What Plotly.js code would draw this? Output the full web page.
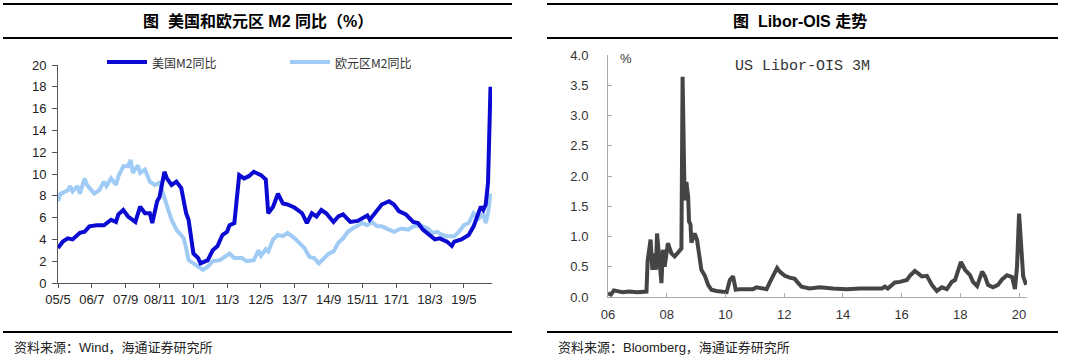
<!DOCTYPE html>
<html>
<head>
<meta charset="utf-8">
<script src="https://cdn.plot.ly/plotly-3.0.1.min.js"></script>
<style>html,body{margin:0;padding:0;background:#fff;}#chart{width:1080px;height:359px;}</style>
</head>
<body>
<div id="chart"></div>
<script>
// ---- Left chart: US & Euro area M2 YoY (%) ----
var usDates = ['2005-05','2005-07','2005-09','2005-11','2006-02','2006-04','2006-06','2006-09','2006-12','2007-03','2007-05','2007-06','2007-08','2007-10','2008-01','2008-03','2008-05','2008-07','2008-08','2008-10','2008-11','2009-01','2009-02','2009-04','2009-06','2009-08','2009-10','2009-11','2010-01','2010-03','2010-04','2010-07','2010-09','2010-11','2011-01','2011-03','2011-04','2011-06','2011-08','2011-10','2011-12','2012-02','2012-05','2012-07','2012-08','2012-10','2012-12','2013-02','2013-04','2013-07','2013-10','2013-12','2014-02','2014-04','2014-06','2014-08','2014-11','2015-01','2015-03','2015-06','2015-09','2015-12','2016-01','2016-02','2016-05','2016-07','2016-10','2016-12','2017-02','2017-05','2017-08','2017-10','2017-12','2018-03','2018-05','2018-07','2018-10','2018-12','2019-01','2019-04','2019-07','2019-09','2019-11','2019-12','2020-01','2020-02','2020-03','2020-04'];
var usM2 = [3.2,3.8,4.1,4.0,4.6,4.7,5.2,5.3,5.3,5.8,5.6,6.3,6.7,6.1,5.6,7.0,6.4,6.4,5.5,7.5,7.9,10.2,9.6,9.0,9.3,8.7,6.4,5.8,2.7,2.3,1.8,2.1,3.0,3.4,4.4,4.7,5.3,5.5,9.9,9.6,9.8,10.2,9.9,9.5,6.4,7.0,8.2,7.3,7.2,6.9,6.4,5.5,6.4,6.1,6.7,6.4,5.6,6.1,6.3,5.6,5.7,6.0,6.2,5.8,6.6,7.2,7.5,7.2,6.6,6.3,5.6,5.5,4.9,4.3,4.0,4.1,3.8,3.4,3.8,4.0,4.4,5.2,6.3,7.0,6.7,7.2,9.2,18.0];

var euDates = ['2005-05','2005-06','2005-09','2005-10','2005-11','2006-01','2006-02','2006-04','2006-05','2006-08','2006-10','2006-12','2007-01','2007-03','2007-05','2007-06','2007-08','2007-10','2007-11','2007-12','2008-02','2008-03','2008-05','2008-07','2008-09','2008-11','2008-12','2009-02','2009-04','2009-06','2009-09','2009-10','2009-11','2010-01','2010-03','2010-05','2010-07','2010-09','2010-12','2011-04','2011-06','2011-09','2011-11','2012-02','2012-04','2012-05','2012-07','2012-08','2012-10','2012-12','2013-02','2013-04','2013-07','2013-09','2013-11','2014-01','2014-03','2014-05','2014-07','2014-09','2014-11','2015-01','2015-03','2015-05','2015-07','2015-09','2015-11','2016-01','2016-03','2016-05','2016-07','2016-10','2016-12','2017-03','2017-06','2017-08','2017-11','2018-02','2018-04','2018-06','2018-08','2018-10','2019-01','2019-03','2019-05','2019-07','2019-09','2019-11','2020-01','2020-02','2020-03','2020-04'];
var euM2 = [7.5,8.2,8.5,8.9,8.4,8.9,8.2,9.6,9.0,8.2,8.5,9.3,8.9,9.6,9.0,9.8,10.7,10.7,11.3,10.1,10.8,10.1,10.4,9.3,9.0,9.2,8.5,7.0,5.8,4.9,4.1,3.2,2.1,1.8,1.5,1.2,1.5,2.0,2.1,2.7,2.3,2.3,2.0,2.1,3.0,2.5,3.1,2.9,4.0,4.4,4.3,4.6,4.1,3.7,3.2,2.4,2.3,1.8,2.3,2.7,2.9,3.7,4.1,4.7,5.0,5.3,5.5,5.3,5.6,5.2,5.2,4.9,4.7,5.0,4.9,5.2,5.3,5.0,4.6,4.7,4.4,4.3,4.3,4.7,5.3,5.5,6.4,5.9,6.3,5.5,6.4,8.2];

var leftTickVals = ['2005-05-01','2006-07-01','2007-09-01','2008-11-01','2010-01-01','2011-03-01','2012-05-01','2013-07-01','2014-09-01','2015-11-01','2017-01-01','2018-03-01','2019-05-01'];
var leftTickText = ['05/5','06/7','07/9','08/11','10/1','11/3','12/5','13/7','14/9','15/11','17/1','18/3','19/5'];

// ---- Right chart: US Libor-OIS 3M (%) ----
var liborYear = [2006.00,2006.10,2006.20,2006.30,2006.50,2006.70,2007.00,2007.31,2007.35,2007.45,2007.51,2007.56,2007.63,2007.67,2007.74,2007.79,2007.82,2007.87,2007.93,2008.04,2008.16,2008.27,2008.42,2008.50,2008.54,2008.59,2008.61,2008.67,2008.73,2008.76,2008.81,2008.84,2008.90,2008.95,2009.03,2009.10,2009.18,2009.30,2009.41,2009.52,2009.69,2010.04,2010.15,2010.26,2010.35,2010.49,2010.94,2011.06,2011.28,2011.40,2011.51,2011.62,2011.76,2011.85,2012.02,2012.19,2012.36,2012.48,2012.59,2012.87,2013.21,2013.66,2014.13,2014.58,2015.02,2015.33,2015.43,2015.53,2015.67,2015.77,2015.94,2016.18,2016.28,2016.45,2016.56,2016.69,2016.86,2017.03,2017.20,2017.37,2017.54,2017.71,2017.82,2017.92,2018.02,2018.16,2018.33,2018.43,2018.57,2018.74,2018.84,2018.94,2019.11,2019.28,2019.42,2019.59,2019.76,2019.86,2019.93,2020.00,2020.07,2020.14,2020.24];
var liborOIS = [0.06,0.04,0.11,0.10,0.08,0.09,0.08,0.09,0.60,0.95,0.45,0.72,0.45,1.05,0.72,0.39,0.23,0.78,0.50,0.89,0.72,0.67,0.75,0.80,3.64,1.77,1.60,1.90,1.65,1.25,1.20,0.90,1.00,1.05,0.95,0.70,0.45,0.35,0.20,0.12,0.10,0.08,0.28,0.34,0.12,0.13,0.13,0.16,0.14,0.13,0.24,0.34,0.48,0.42,0.35,0.32,0.30,0.23,0.17,0.14,0.16,0.14,0.13,0.14,0.14,0.14,0.17,0.14,0.20,0.24,0.25,0.28,0.35,0.43,0.39,0.34,0.35,0.20,0.10,0.16,0.13,0.25,0.28,0.45,0.58,0.45,0.36,0.25,0.18,0.42,0.34,0.20,0.16,0.20,0.29,0.36,0.33,0.13,0.50,1.38,0.83,0.34,0.20];
var rightTickVals = [2006,2008,2010,2012,2014,2016,2018,2020];
var rightTickText = ['06','08','10','12','14','16','18','20'];

var W = 1080, H = 359;
function px(x){return x / W;}
function py(y){return 1 - y / H;}

var FONT = 'Liberation Sans, Arial, Noto Sans CJK SC, sans-serif';
var CJK = 'Noto Sans CJK SC, Liberation Sans, sans-serif';

var traces = [
  {x: euDates, y: euM2, type: 'scatter', mode: 'lines', name: '欧元区M2同比',
   line: {color: '#9fcbf5', width: 4}, xaxis: 'x', yaxis: 'y', showlegend: false},
  {x: usDates, y: usM2, type: 'scatter', mode: 'lines', name: '美国M2同比',
   line: {color: '#0a0ad2', width: 4}, xaxis: 'x', yaxis: 'y', showlegend: false},
  {x: liborYear, y: liborOIS, type: 'scatter', mode: 'lines', name: 'US Libor-OIS 3M',
   line: {color: '#454545', width: 4}, xaxis: 'x2', yaxis: 'y2', showlegend: false}
];

function hline(x0, x1, y, w){
  return {type: 'line', xref: 'paper', yref: 'paper', x0: px(x0), x1: px(x1), y0: py(y), y1: py(y),
          line: {color: '#000', width: w}};
}

var layout = {
  width: W, height: H,
  margin: {l: 0, r: 0, t: 0, b: 0},
  paper_bgcolor: '#fff', plot_bgcolor: '#fff',
  font: {family: FONT, size: 13, color: '#222'},
  showlegend: false,
  xaxis: {
    type: 'date', domain: [px(58), px(492)], anchor: 'y',
    range: ['2005-05-01', '2020-04-20'],
    tickmode: 'array', tickvals: leftTickVals, ticktext: leftTickText,
    ticks: 'outside', ticklen: 4, tickcolor: '#555', tickwidth: 1,
    showline: true, linecolor: '#555', linewidth: 1,
    showgrid: false, zeroline: false,
    tickfont: {family: FONT, size: 13, color: '#222'}
  },
  yaxis: {
    domain: [py(283), py(65)], anchor: 'x',
    range: [0, 20], dtick: 2, tick0: 0,
    ticks: 'outside', ticklen: 5, tickcolor: '#555', tickwidth: 1,
    showline: true, linecolor: '#555', linewidth: 1,
    showgrid: false, zeroline: false, ticklabelstandoff: 3,
    tickfont: {family: FONT, size: 13, color: '#222'}
  },
  xaxis2: {
    domain: [px(608), px(1027)], anchor: 'y2',
    range: [2006, 2020.27],
    tickmode: 'array', tickvals: rightTickVals, ticktext: rightTickText,
    ticks: 'inside', ticklen: 4, tickcolor: '#aaa', tickwidth: 1,
    showline: true, linecolor: '#aaa', linewidth: 1,
    showgrid: false, zeroline: false, ticklabelstandoff: 5,
    tickfont: {family: FONT, size: 13, color: '#333'}
  },
  yaxis2: {
    domain: [py(297), py(55)], anchor: 'x2',
    range: [0, 4], dtick: 0.5, tick0: 0, tickformat: '.1f',
    ticks: 'inside', ticklen: 4, tickcolor: '#aaa', tickwidth: 1,
    showline: true, linecolor: '#aaa', linewidth: 1,
    showgrid: false, zeroline: false, ticklabelstandoff: 16,
    tickfont: {family: FONT, size: 13, color: '#333'}
  },
  shapes: [
    hline(3, 512, 4, 2), hline(3, 512, 38, 2), hline(3, 512, 332, 2),
    hline(547, 1058, 4, 2), hline(547, 1058, 38, 2), hline(547, 1058, 332, 2),
    // legend keys (left chart)
    {type: 'line', xref: 'paper', yref: 'paper', x0: px(107), x1: px(147), y0: py(62), y1: py(62), line: {color: '#0a0ad2', width: 4}},
    {type: 'line', xref: 'paper', yref: 'paper', x0: px(290), x1: px(330), y0: py(62), y1: py(62), line: {color: '#9fcbf5', width: 4}}
  ],
  annotations: [
    {xref: 'paper', yref: 'paper', x: px(258), y: py(21), text: '<b>图  美国和欧元区 M2 同比（%）</b>', showarrow: false,
     xanchor: 'center', yanchor: 'middle', font: {family: FONT, size: 16, color: '#000'}},
    {xref: 'paper', yref: 'paper', x: px(800), y: py(21), text: '<b>图  Libor-OIS 走势</b>', showarrow: false,
     xanchor: 'center', yanchor: 'middle', font: {family: FONT, size: 16, color: '#000'}},
    {xref: 'paper', yref: 'paper', x: px(150), y: py(62), text: '美国M2同比', showarrow: false,
     xanchor: 'left', yanchor: 'middle', font: {family: CJK, size: 12, color: '#333'}},
    {xref: 'paper', yref: 'paper', x: px(333), y: py(62), text: '欧元区M2同比', showarrow: false,
     xanchor: 'left', yanchor: 'middle', font: {family: CJK, size: 12, color: '#333'}},
    {xref: 'paper', yref: 'paper', x: px(618), y: py(59), text: '%', showarrow: false,
     xanchor: 'left', yanchor: 'middle', font: {family: FONT, size: 13, color: '#333'}},
    {xref: 'paper', yref: 'paper', x: px(733), y: py(66), text: 'US Libor-OIS 3M', showarrow: false,
     xanchor: 'left', yanchor: 'middle', font: {family: 'Liberation Mono, Courier New, monospace', size: 15, color: '#333'}},
    {xref: 'paper', yref: 'paper', x: px(12), y: py(347), text: '资料来源：Wind，海通证券研究所', showarrow: false,
     xanchor: 'left', yanchor: 'middle', font: {family: FONT, size: 13, color: '#222'}},
    {xref: 'paper', yref: 'paper', x: px(556), y: py(347), text: '资料来源：Bloomberg，海通证券研究所', showarrow: false,
     xanchor: 'left', yanchor: 'middle', font: {family: FONT, size: 13, color: '#222'}}
  ]
};

Plotly.newPlot('chart', traces, layout, {displayModeBar: false, staticPlot: true});
</script>
</body>
</html>
